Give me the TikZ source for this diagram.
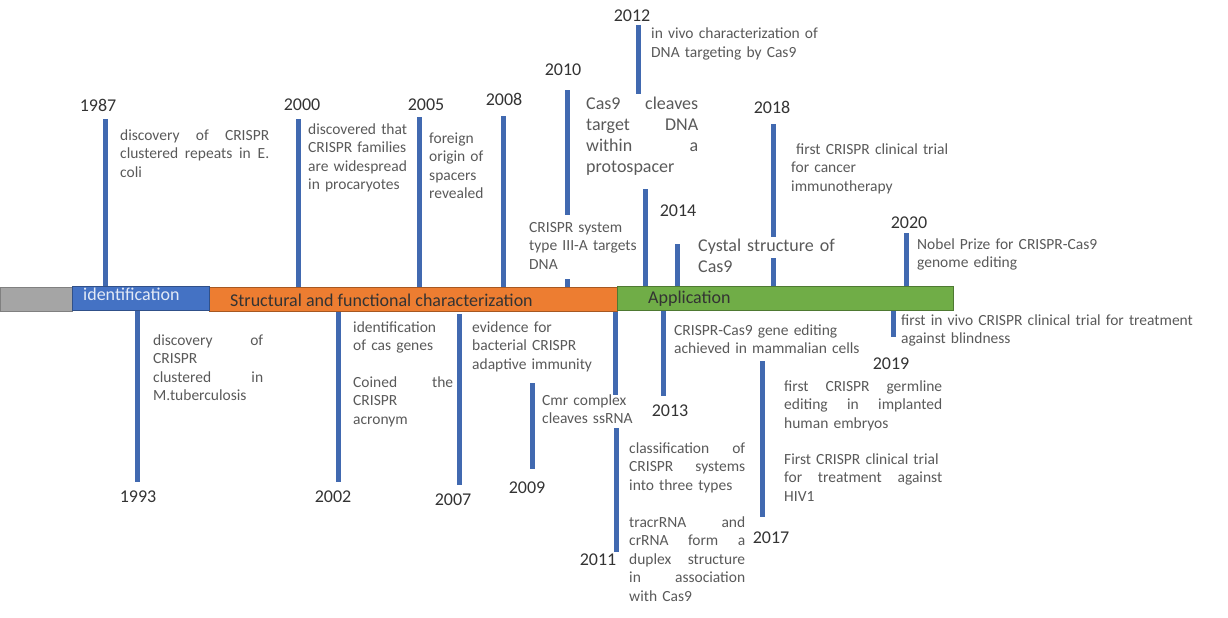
\documentclass[tikz,border=0pt]{standalone}
\usepackage{fontspec}
\setmainfont{Carlito}
\definecolor{stemblue}{HTML}{4169B0}
\definecolor{barblue}{HTML}{4472C4}
\definecolor{barorange}{HTML}{ED7D31}
\definecolor{bargreen}{HTML}{70AD47}
\definecolor{bargray}{HTML}{A5A5A5}
\begin{document}
\begin{tikzpicture}[x=1pt,y=-1pt]
			\tikzstyle{yr} = [font=\fontsize{18}{21}\selectfont, text=black!80, inner sep=0]
			\tikzstyle{txt} = [font=\fontsize{15.5}{18.5}\selectfont, text=black!65, inner sep=0, anchor=base west, align=left, text width=220]
			\tikzstyle{bigtxt} = [txt, font=\fontsize{18}{21}\selectfont]
			\tikzstyle{lbl} = [font=\fontsize{18}{21}\selectfont, inner sep=0, anchor=base west]
			\tikzstyle{seg} = [draw, line width=1, minimum height=24, anchor=north west, inner sep=0]
			\tikzstyle{stem} = [line width=5, stemblue]
			\useasboundingbox (0,0) rectangle (1228,618);

			% the time bar
			\node [seg, fill=bargray, draw=black!50, minimum width=72] (pre) at (0,287) {};
			\node [seg, fill=barorange, draw=barorange!70!black, minimum width=408] (stru) at (209,287) {};
			\node [seg, fill=bargreen, draw=bargreen!70!black, minimum width=336] (appl) at (617,286) {};
			\node [seg, fill=barblue, draw=barblue!70!black, minimum width=137] (iden) at (72,286) {};
			\node [lbl, text=white!85!barblue] (liden) at (83,300) {identification};
			\node [lbl, text=black!80] (lstru) at (230,306) {Structural and functional characterization};
			\node [lbl, text=black!80] (lappl) at (648,303) {Application};

			% years
			\node [yr] (y87) at (98,105) {1987};
			\node [yr] (y00) at (302,105) {2000};
			\node [yr] (y05) at (426,105) {2005};
			\node [yr] (y08) at (504,99) {2008};
			\node [yr] (y10) at (563,70) {2010};
			\node [yr] (y12) at (632,16) {2012};
			\node [yr] (y14) at (678,211) {2014};
			\node [yr] (y18) at (772,107) {2018};
			\node [yr] (y20) at (909,223) {2020};
			\node [yr] (y93) at (138,497) {1993};
			\node [yr] (y02) at (333,497) {2002};
			\node [yr] (y07) at (453,500) {2007};
			\node [yr] (y09) at (527,488) {2009};
			\node [yr] (y11) at (598,560) {2011};
			\node [yr] (y13) at (670,411) {2013};
			\node [yr] (y17) at (771,538) {2017};
			\node [yr] (y19) at (891,364) {2019};

			% events above the bar
			\node [txt, text width=149] (t87) at (120,140) {discovery\hfill of\hfill CRISPR\\clustered\hfill repeats\hfill in\hfill E.\\coli};
			\node [txt] (t00) at (308,134) {discovered that\\CRISPR families\\are widespread\\in procaryotes};
			\node [txt] (t05) at (429,143) {foreign\\origin of\\spacers\\revealed};
			\node [txt] (t10) at (529,232) {CRISPR system\\type III-A targets\\DNA};
			\node [txt] (t12) at (651,39) {in vivo characterization of\\DNA targeting by Cas9};
			\node [bigtxt, text width=112] (tcas) at (586,109) {Cas9\hfill cleaves\\target\hfill DNA\\within\hfill a\\protospacer};
			\node [bigtxt] (t14) at (698,251) {Cystal structure of\\Cas9};
			\node [txt] (t18) at (791,154) {\hspace{5pt}first CRISPR clinical trial\\for cancer\\immunotherapy};
			\node [txt] (t20) at (917,249) {Nobel Prize for CRISPR-Cas9\\genome editing};

			% events below the bar
			\node [txt, text width=110] (t93) at (153,345) {discovery\hfill of\\CRISPR\\clustered\hfill in\\M.tuberculosis};
			\node [txt] (t02a) at (353,332) {identification\\of cas genes};
			\node [txt, text width=100] (t02b) at (353,387) {Coined\hfill the\\CRISPR\\acronym};
			\node [txt] (t07) at (472,332) {evidence for\\bacterial CRISPR\\adaptive immunity};
			\node [txt] (t09) at (542,405) {Cmr complex\\cleaves ssRNA};
			\node [txt, text width=116] (t11a) at (629,453) {classification\hfill of\\CRISPR\hfill systems\\into three types};
			\node [txt, text width=116] (t11b) at (629,527) {tracrRNA\hfill and\\crRNA\hfill form\hfill a\\duplex\hfill structure\\in\hfill association\\with Cas9};
			\node [txt, text width=300] (t13) at (674,335) {CRISPR-Cas9 gene editing\\achieved in mammalian cells};
			\node [txt, text width=158] (t17a) at (784,391) {first\hfill CRISPR\hfill germline\\editing\hfill in\hfill implanted\\human embryos};
			\node [txt, text width=158] (t17b) at (784,464) {First CRISPR clinical trial\\for\hfill treatment\hfill against\\HIV1};
			\node [txt, text width=320] (t19) at (901,325) {first in vivo CRISPR clinical trial for treatment\\against blindness};

			% stems
			\coordinate (s87) at (105,119);
			\coordinate (s00) at (298,119);
			\coordinate (s05) at (419,117);
			\coordinate (s08) at (503,116);
			\coordinate (s10a) at (567,90);
			\coordinate (s10b) at (567,215);
			\coordinate (s10c) at (567,279);
			\coordinate (s12a) at (638,25);
			\coordinate (s12b) at (638,94);
			\coordinate (scas) at (645,189);
			\coordinate (s14) at (677,244);
			\coordinate (s18a) at (773,124);
			\coordinate (s18b) at (773,237);
			\coordinate (s18c) at (773,258);
			\coordinate (s20) at (906,233);
			\draw [stem] (s87) -- (s87 |- iden.north);
			\draw [stem] (s00) -- (s00 |- stru.north);
			\draw [stem] (s05) -- (s05 |- stru.north);
			\draw [stem] (s08) -- (s08 |- stru.north);
			\draw [stem] (s10a) -- (s10b);
			\draw [stem] (s10c) -- (s10c |- stru.north);
			\draw [stem] (s12a) -- (s12b);
			\draw [stem] (scas) -- (scas |- appl.north);
			\draw [stem] (s14) -- (s14 |- appl.north);
			\draw [stem] (s18a) -- (s18b);
			\draw [stem] (s18c) -- (s18c |- appl.north);
			\draw [stem] (s20) -- (s20 |- appl.north);

			\coordinate (s93) at (137,482);
			\coordinate (s02) at (338,482);
			\coordinate (s07a) at (459,314);
			\coordinate (s07b) at (459,485);
			\coordinate (s09a) at (532,383);
			\coordinate (s09b) at (532,469);
			\coordinate (s11a) at (615,395);
			\coordinate (s11b) at (616,428);
			\coordinate (s11c) at (616,552);
			\coordinate (s13) at (663,396);
			\coordinate (s17a) at (762,361);
			\coordinate (s17b) at (762,517);
			\coordinate (s19) at (893,337);
			\draw [stem] (s93 |- iden.south) -- (s93);
			\draw [stem] (s02 |- stru.south) -- (s02);
			\draw [stem] (s07a) -- (s07b);
			\draw [stem] (s09a) -- (s09b);
			\draw [stem] (s11a |- stru.south) -- (s11a);
			\draw [stem] (s11b) -- (s11c);
			\draw [stem] (s13 |- appl.south) -- (s13);
			\draw [stem] (s17a) -- (s17b);
			\draw [stem] (s19 |- appl.south) -- (s19);

		\end{tikzpicture}
\end{document}
